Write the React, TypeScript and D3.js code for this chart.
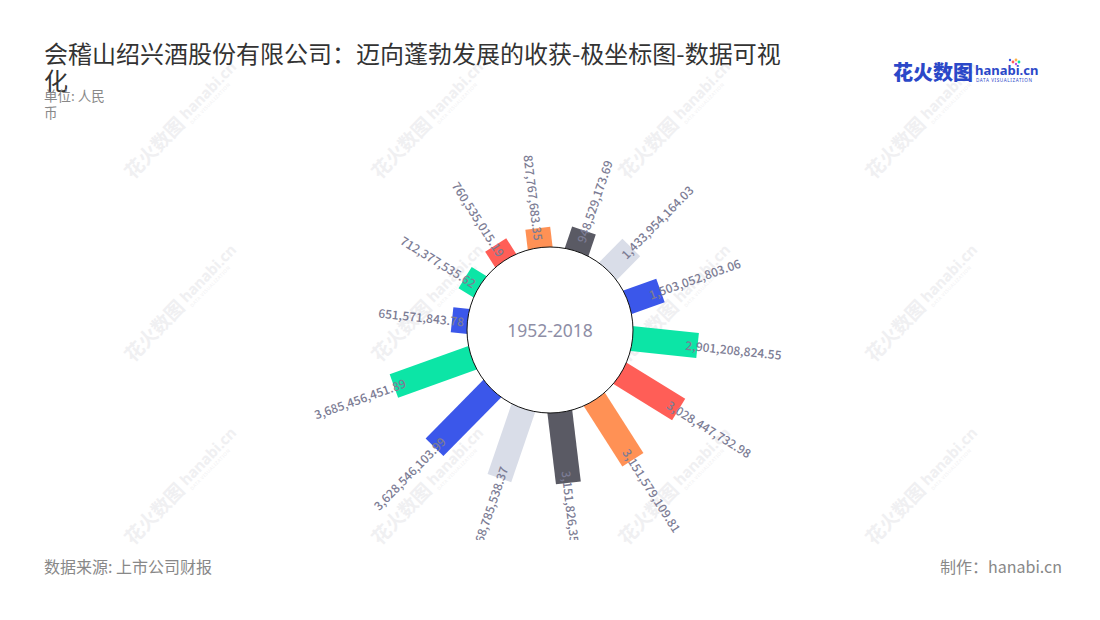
import React from "react";
import * as d3 from "d3";

const values = [
  651571843.78, 712377535.62, 760535015.19, 827767683.35, 948529173.69,
  1433954164.03, 1503052803.06, 2901208824.55, 3028447732.98, 3151579109.81,
  3151826359.27, 3268785538.37, 3628546103.99, 3685456451.89,
];
const palette = ["#3b57ea", "#0ce5a6", "#ff5e57", "#ff9155", "#5a5a64", "#d9dde8"];
const centerLabel = "1952-2018";
const titleLines = ["会稽山绍兴酒股份有限公司：迈向蓬勃发展的收获-极坐标图-数据可视", "化"];
const subtitleLines = ["单位: 人民", "币"];
const sourceText = "数据来源: 上市公司财报";
const makerText = "制作：hanabi.cn";

const W = 1100;
const H = 620;
const cx = 550;
const cy = 330;
const innerR = 83;
const barW = 25;
const startAngle = 276;

const wmXs = [133, 380, 627, 874];
const wmYs = [180, 363, 546];

export default function App() {
  const fmt = d3.format(",.2f");
  const step = 360 / values.length;
  const angle = d3
    .scaleBand<number>()
    .domain(values.map((_, i) => i))
    .range([startAngle - step / 2, startAngle - step / 2 + 360]);
  const radius = d3.scaleLinear().domain([0, 4e9]).range([84, 84 + 88.8]);
  const cjk = "'Noto Sans CJK SC', 'Noto Sans', sans-serif";

  return (
    <svg
      width={W}
      height={H}
      style={{ position: "absolute", left: 0, top: 0, background: "#fff" }}
      fontFamily={cjk}
    >
      <defs>
        <clipPath id="chartClip">
          <rect x={0} y={0} width={W} height={540} />
        </clipPath>
      </defs>
      {/* watermarks */}
      <g fill="#f0f0f2">
        {wmYs.map((y) =>
          wmXs.map((x) => (
            <g key={`${x}-${y}`} transform={`translate(${x},${y}) rotate(-46)`}>
              <text x={0} y={0} fontSize={19} fontWeight={700}>花火数图</text>
              <text x={80} y={-3} fontSize={15} fontWeight={700} fontFamily="'Noto Sans', sans-serif">hanabi.cn</text>
              <text x={81} y={4} fontSize={4.5} fontFamily="'Noto Sans', sans-serif" letterSpacing={0.6}>DATA VISUALIZATION</text>
            </g>
          ))
        )}
      </g>

      {/* title */}
      <text fontSize={24} fill="#333" x={44}>
        <tspan x={44} y={63}>{titleLines[0]}</tspan>
        <tspan x={44} y={90}>{titleLines[1]}</tspan>
      </text>
      <text fontSize={13.5} fill="#888">
        <tspan x={44} y={101}>{subtitleLines[0]}</tspan>
        <tspan x={44} y={118}>{subtitleLines[1]}</tspan>
      </text>

      {/* logo */}
      <g>
        <text x={893} y={80} fontSize={20} fontWeight={900} fill="#2b48c8">花火数图</text>
        <text x={975} y={75} fontSize={13} fontWeight={700} fill="#2b48c8" fontFamily="'Noto Sans', sans-serif">hanabi.cn</text>
        <text x={976} y={82} fontSize={4.6} fill="#2b48c8" letterSpacing={0.6} fontFamily="'Noto Sans', sans-serif">DATA VISUALIZATION</text>
        <circle cx={1013} cy={62} r={1.4} fill="#ff5e57" />
        <circle cx={1016} cy={60} r={1.4} fill="#ffb24a" />
        <circle cx={1019} cy={62} r={1.4} fill="#0ce5a6" />
        <circle cx={1010} cy={60} r={1.2} fill="#3b57ea" />
        <circle cx={1016} cy={64} r={1.2} fill="#c04de6" />
      </g>

      {/* bars */}
      <g clipPath="url(#chartClip)">
        {values.map((v, i) => {
          const a = (angle(i) as number) + angle.bandwidth() / 2;
          const r = radius(v);
          return (
            <g key={i} transform={`translate(${cx},${cy}) rotate(${a})`}>
              <rect x={-barW / 2} y={-r} width={barW} height={r - 40} fill={palette[i % palette.length]} />
            </g>
          );
        })}
        <circle cx={cx} cy={cy} r={innerR} fill="#fff" stroke="#111" strokeWidth={1} />
        <text
          x={cx}
          y={cy}
          textAnchor="middle"
          dominantBaseline="central"
          fontSize={17.5}
          fill="#8e8ea6"
          fontFamily="'Noto Sans', sans-serif"
        >
          {centerLabel}
        </text>
        {values.map((v, i) => {
          const a = (angle(i) as number) + angle.bandwidth() / 2;
          const lr = radius(v) - 12;
          const rad = (a * Math.PI) / 180;
          const x = cx + Math.sin(rad) * lr;
          const y = cy - Math.cos(rad) * lr;
          const norm = ((a % 360) + 360) % 360;
          const outward = norm < 180;
          const rot = outward ? norm - 90 : norm + 90;
          return (
            <text
              key={i}
              transform={`translate(${x},${y}) rotate(${rot})`}
              textAnchor={outward ? "start" : "end"}
              dominantBaseline="central"
              fontSize={12}
              fill="#7c7c94"
              fontFamily="'Noto Sans CJK SC', 'Noto Sans', sans-serif"
              fontWeight={500}
            >
              {fmt(v)}
            </text>
          );
        })}
      </g>

      {/* footer */}
      <text x={44} y={573} fontSize={16} fill="#888">{sourceText}</text>
      <text x={1062} y={573} fontSize={16} fill="#888" textAnchor="end">{makerText}</text>
    </svg>
  );
}
